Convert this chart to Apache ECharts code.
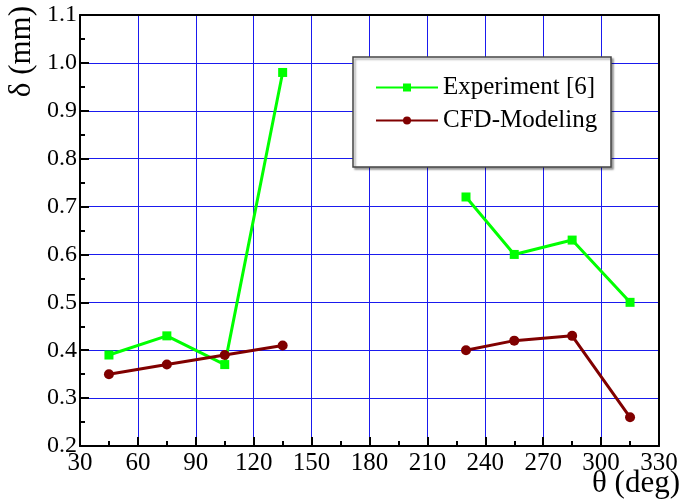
<!DOCTYPE html>
<html>
<head>
<meta charset="utf-8">
<script src="https://cdn.jsdelivr.net/npm/echarts@6/dist/echarts.min.js"></script>
<style>
  html, body { margin: 0; padding: 0; background: #fff; }
  #chart { width: 691px; height: 504px; }
</style>
</head>
<body>
<div id="chart"></div>
<script>
// angles (deg) and measured thickness (mm); null = gap between the two regions
var theta = [45, 75, 105, 135, null, 230, 255, 285, 315];
var experiment = [0.39, 0.43, 0.37, 0.98, null, 0.72, 0.60, 0.63, 0.50];
var cfd = [0.35, 0.37, 0.39, 0.41, null, 0.40, 0.42, 0.43, 0.26];

function pairs(xs, ys) {
    return xs.map(function (x, i) {
        return x === null ? [180, '-'] : [x, ys[i]];
    });
}

var FONT = 'Liberation Serif';
var chart = echarts.init(document.getElementById('chart'));

chart.setOption({
    backgroundColor: '#fff',
    animation: false,
    textStyle: {fontFamily: FONT},
    grid: {left: 80, right: 32, top: 15, bottom: 58},
    legend: {
        left: 370, top: 70, z: 20,
        orient: 'vertical',
        itemWidth: 62, itemHeight: 10, itemGap: 8,
        textStyle: {fontFamily: FONT, fontSize: 25, color: '#000'},
        data: ['Experiment [6]', 'CFD-Modeling']
    },
    xAxis: [{
        type: 'value', min: 30, max: 330, interval: 30,
        axisLine: {lineStyle: {color: '#000', width: 2}},
        axisTick: {inside: true, length: 9, lineStyle: {color: '#000', width: 2}},
        minorTick: {show: true, splitNumber: 2, length: 5, lineStyle: {color: '#000', width: 2}},
        axisLabel: {fontFamily: FONT, fontSize: 25, color: '#000', margin: 5},
        splitLine: {lineStyle: {color: '#1a1aee', width: 1}}
    }, {
        type: 'value', position: 'top', min: 30, max: 330,
        axisLine: {show: true, lineStyle: {color: '#000', width: 2}},
        axisTick: {show: false}, axisLabel: {show: false}, splitLine: {show: false}
    }],
    yAxis: [{
        type: 'value', min: 0.2, max: 1.1, interval: 0.1,
        axisLine: {show: true, lineStyle: {color: '#000', width: 2}},
        axisTick: {show: true, inside: true, length: 9, lineStyle: {color: '#000', width: 2}},
        minorTick: {show: true, splitNumber: 2, length: 5, lineStyle: {color: '#000', width: 2}},
        axisLabel: {
            fontFamily: FONT, fontSize: 24, color: '#000', margin: 3,
            formatter: function (v) { return v.toFixed(1); }
        },
        splitLine: {lineStyle: {color: '#1a1aee', width: 1}}
    }, {
        type: 'value', position: 'right', min: 0.2, max: 1.1,
        axisLine: {show: true, lineStyle: {color: '#000', width: 2}},
        axisTick: {show: false}, axisLabel: {show: false}, splitLine: {show: false}
    }],
    graphic: [
        {
            type: 'rect', z: 5, shape: {x: 353, y: 57, width: 258, height: 110},
            style: {fill: '#fff', stroke: '#444', lineWidth: 1.5,
                shadowColor: 'rgba(0,0,0,0.35)', shadowOffsetX: 2, shadowOffsetY: 2, shadowBlur: 2}
        },
        {
            type: 'text', left: 6, top: 6, rotation: Math.PI / 2, z: 100,
            style: {text: 'δ (mm)', fontFamily: FONT, fontSize: 31, fill: '#000'}
        },
        {
            type: 'text', left: 592, top: 468, z: 100,
            style: {text: 'θ (deg)', fontFamily: FONT, fontSize: 31, fill: '#000'}
        }
    ],
    series: [{
        name: 'Experiment [6]', type: 'line',
        data: pairs(theta, experiment),
        connectNulls: false,
        symbol: 'rect', symbolSize: 9,
        itemStyle: {color: '#00ff00'},
        lineStyle: {color: '#00ff00', width: 3},
        z: 3
    }, {
        name: 'CFD-Modeling', type: 'line',
        data: pairs(theta, cfd),
        connectNulls: false,
        symbol: 'circle', symbolSize: 10,
        itemStyle: {color: '#800000'},
        lineStyle: {color: '#800000', width: 3},
        z: 3
    }]
});
</script>
</body>
</html>
